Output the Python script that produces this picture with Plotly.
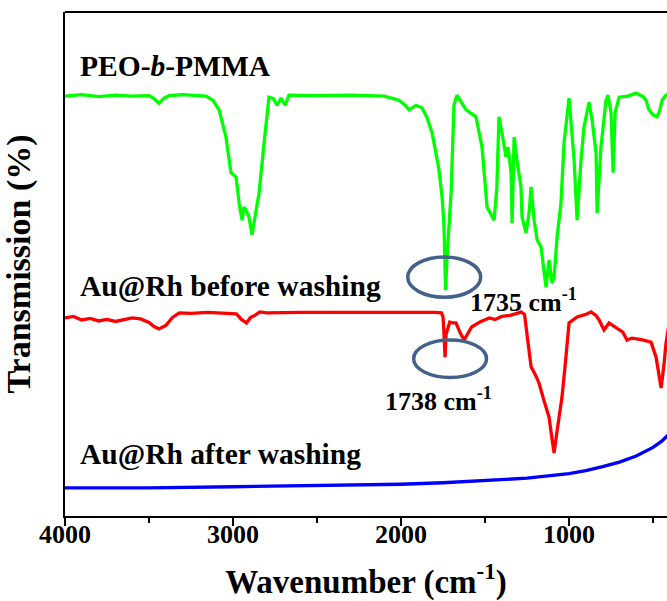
import plotly.graph_objects as go

# FTIR spectra (wavenumber in cm^-1, transmission offset per trace, %)
peo_wn = [4000, 3900, 3800, 3700, 3600, 3500, 3470, 3440, 3410, 3380, 3300, 3200, 3161,
          3120, 3083, 3042, 3012, 2995, 2982, 2970, 2964, 2946, 2935, 2920, 2905, 2887,
          2865, 2845, 2815, 2786, 2760, 2738, 2714, 2690, 2667, 2500, 2300, 2100, 2012,
          1975, 1952, 1911, 1875, 1845, 1815, 1774, 1755, 1744, 1735, 1725, 1702, 1685,
          1667, 1640, 1613, 1554, 1518, 1488, 1446, 1430, 1417, 1399, 1375, 1363, 1345,
          1339, 1327, 1310, 1286, 1280, 1256, 1238, 1226, 1208, 1190, 1167, 1149, 1137,
          1119, 1101, 1089, 1071, 1048, 1030, 1000, 988, 970, 952, 929, 911, 881, 863,
          839, 833, 810, 780, 768, 750, 738, 726, 702, 650, 601, 560, 542, 524, 500, 476,
          460, 446, 423, 400]
peo_t = [83.3, 83.6, 83.2, 83.5, 83.3, 83.4, 82.8, 81.9, 82.9, 83.4, 83.6, 83.5, 83.3,
         82.5, 80.6, 75.2, 68.1, 67.6, 67.3, 64.0, 62.1, 58.7, 61.3, 60.5, 59.3, 55.8,
         60.0, 64.1, 74.0, 83.1, 82.8, 81.5, 82.9, 81.5, 83.5, 83.4, 83.5, 83.3, 82.5,
         81.5, 80.6, 81.5, 81.0, 79.0, 76.0, 68.7, 63.0, 57.3, 44.8, 52.0, 64.1, 81.5,
         83.5, 82.0, 80.6, 79.2, 73.2, 61.3, 58.7, 65.0, 79.2, 76.0, 71.2, 73.2, 68.1,
         58.1, 75.2, 70.6, 65.3, 59.3, 56.2, 60.1, 65.3, 58.7, 54.8, 53.4, 48.2, 45.4,
         50.8, 46.2, 47.4, 55.4, 62.1, 74.0, 82.9, 77.2, 70.6, 58.7, 70.6, 77.2, 82.1, 78.6,
         72.0, 60.1, 73.2, 82.5, 83.5, 80.0, 68.1, 80.0, 83.1, 83.3, 83.9, 83.2, 82.5, 80.6,
         79.6, 79.2, 80.5, 82.5, 83.5, 83.8]

before_wn = [4000, 3950, 3900, 3850, 3800, 3750, 3700, 3650, 3600, 3550, 3500, 3470, 3440,
             3400, 3360, 3320, 3250, 3150, 3050, 2980, 2950, 2920, 2895, 2870, 2840, 2800,
             2600, 2400, 2200, 2000, 1800, 1760, 1750, 1744, 1738, 1732, 1710, 1690, 1673,
             1650, 1625, 1580, 1530, 1475, 1440, 1400, 1350, 1300, 1286, 1265, 1240, 1226,
             1200, 1179, 1150, 1119, 1100, 1089, 1075, 1060, 1042, 1020, 1000, 952, 900, 869,
             840, 821, 792, 762, 720, 680, 655, 625, 570, 512, 482, 452, 435, 423, 410, 400]
before_t = [39.3, 39.6, 38.9, 39.2, 38.7, 39.0, 38.6, 38.9, 39.3, 39.1, 38.4, 37.6, 37.1,
            37.8, 39.4, 40.3, 40.2, 40.4, 40.2, 40.1, 39.0, 38.3, 39.4, 39.8, 40.5, 40.3,
            40.4, 40.4, 40.5, 40.4, 40.4, 40.3, 39.5, 36.0, 31.5, 36.0, 38.5, 38.3, 38.3,
            36.5, 34.9, 37.5, 38.5, 39.3, 39.0, 39.6, 39.8, 40.3, 40.5, 40.0, 33.0, 29.6,
            28.0, 26.4, 23.0, 19.6, 15.0, 12.5, 16.0, 20.0, 23.6, 31.0, 38.3, 39.5, 40.0, 40.5,
            39.8, 38.9, 36.9, 38.3, 37.3, 36.5, 34.9, 35.3, 35.0, 34.5, 31.5, 25.4, 30.0, 34.3,
            37.0, 39.0]

after_wn = [4000, 3500, 3000, 2500, 2000, 1750, 1500, 1250, 1000, 900, 800, 700, 600, 500,
            450, 423, 400]
after_t = [5.6, 5.6, 5.8, 6.0, 6.3, 6.6, 7.0, 7.5, 8.4, 9.0, 9.8, 10.7, 11.9, 13.6,
           14.8, 15.6, 16.4]

serif = "Liberation Serif, Times New Roman, serif"

fig = go.Figure()
fig.add_trace(go.Scatter(x=peo_wn, y=peo_t, mode="lines",
                         line=dict(color="#00ff00", width=3.3)))
fig.add_trace(go.Scatter(x=before_wn, y=before_t, mode="lines",
                         line=dict(color="#ff0000", width=3.3)))
fig.add_trace(go.Scatter(x=after_wn, y=after_t, mode="lines",
                         line=dict(color="#0000ff", width=3.3)))

# Circles marking the C=O band
ring = "#44618a"
fig.add_shape(type="circle", xref="x", yref="y", x0=1960, x1=1526, y0=43.4, y1=51.4,
              line=dict(color=ring, width=3.5))
fig.add_shape(type="circle", xref="x", yref="y", x0=1925, x1=1491, y0=27.5, y1=34.9,
              line=dict(color=ring, width=3.5))
# top frame line (right side left open)
fig.add_shape(type="line", xref="paper", yref="paper", x0=0, x1=1, y0=1, y1=1,
              line=dict(color="black", width=2))

label_font = dict(family=serif, size=29.5, color="black", weight="bold")
peak_font = dict(family=serif, size=26, color="black", weight="bold")
for text, y in [("PEO-<i>b</i>-PMMA", 0.893),
                ("Au@Rh before washing", 0.456),
                ("Au@Rh after washing", 0.123)]:
    fig.add_annotation(text=text, xref="paper", yref="paper", x=0.0216, y=y,
                       xanchor="left", yanchor="middle", showarrow=False, font=label_font)
fig.add_annotation(text="1735 cm<sup>-1</sup>", xref="paper", yref="paper", x=0.762, y=0.428,
                   xanchor="center", yanchor="middle", showarrow=False, font=peak_font)
fig.add_annotation(text="1738 cm<sup>-1</sup>", xref="paper", yref="paper", x=0.621, y=0.232,
                   xanchor="center", yanchor="middle", showarrow=False, font=peak_font)

fig.update_layout(
    width=667, height=601,
    margin=dict(l=65, r=0, t=12, b=85),
    paper_bgcolor="white", plot_bgcolor="white",
    showlegend=False,
    font=dict(family=serif, color="black"),
    xaxis=dict(
        range=[4000, 417], tickmode="linear", tick0=0, dtick=1000,
        ticks="outside", ticklen=8, tickwidth=2, tickcolor="black",
        ticklabelstandoff=-14, automargin=True,
        minor=dict(dtick=500, tick0=0, ticks="outside", ticklen=5, tickwidth=2,
                   tickcolor="black", showgrid=False),
        showline=True, linewidth=2, linecolor="black", showgrid=False, zeroline=False,
        tickfont=dict(family=serif, size=26, color="black", weight="bold"),
        title=dict(text="Wavenumber (cm<sup>-1</sup>)", standoff=22,
                   font=dict(family=serif, size=33, color="black", weight="bold")),
    ),
    yaxis=dict(
        range=[0, 100], showticklabels=False, ticks="", showgrid=False, zeroline=False,
        showline=True, linewidth=2, linecolor="black",
        title=dict(text="Transmission (%)", standoff=22,
                   font=dict(family=serif, size=34, color="black", weight="bold")),
    ),
)

fig.write_html("out.html")
